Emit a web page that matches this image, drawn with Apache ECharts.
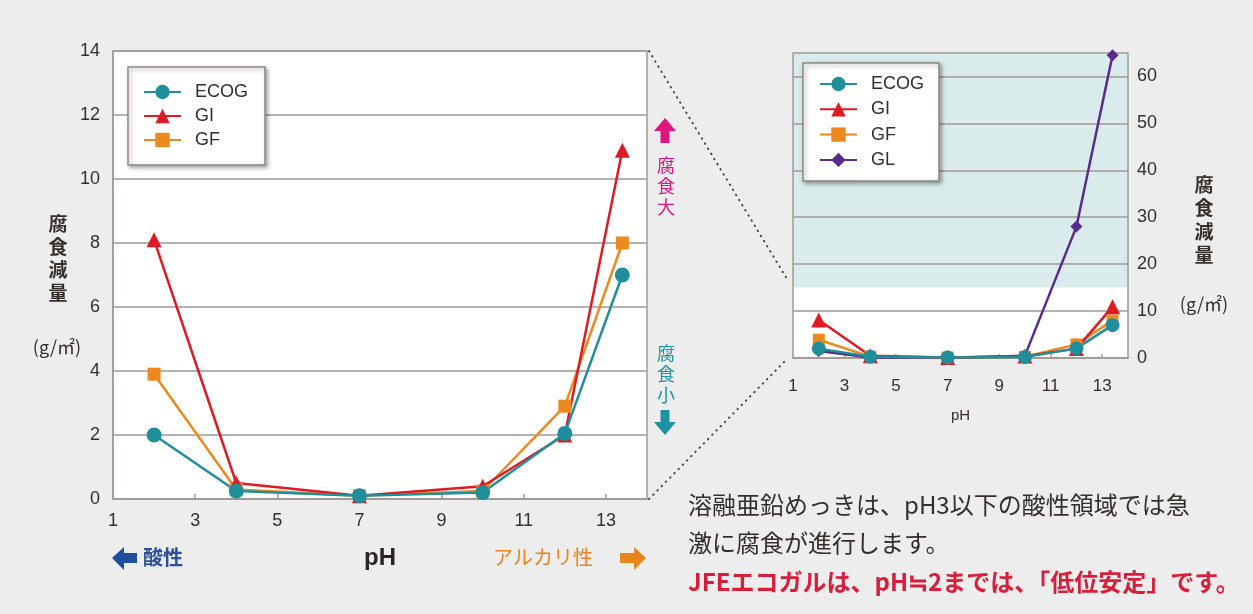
<!DOCTYPE html>
<html>
<head>
<meta charset="utf-8">
<script src="https://cdn.jsdelivr.net/npm/echarts@6/dist/echarts.min.js"></script>
<style>
  html, body { margin: 0; padding: 0; background: #ecedec; }
  #chart { width: 1253px; height: 614px; }
</style>
</head>
<body>
<div id="chart"></div>
<script>
// pH of each immersion test and corrosion loss (g/m²) per coating
const phValues = [2, 4, 7, 10, 12, 13.4];
const ecogLoss = [2.0, 0.25, 0.1, 0.2, 2.05, 7.0];
const giLoss   = [8.1, 0.5, 0.1, 0.4, 2.0, 10.9];
const gfLoss   = [3.9, 0.3, 0.1, 0.25, 2.9, 8.0];
const glLoss   = [1.5, 0.1, 0.0, 0.5, 28, 64.5];

// axis ticks
const phTickLabels = [1, 3, 5, 7, 9, 11, 13];
const phTickMarks = [3, 5, 7, 9, 11, 13];
const leftLossTicks = [0, 2, 4, 6, 8, 10, 12, 14];
const rightLossTicks = [0, 10, 20, 30, 40, 50, 60];
// range of the overview chart that lies above the detail chart
const shadedRange = [15, 65];

const FONT = "'Liberation Sans', 'Noto Sans CJK JP', sans-serif";
const JP = "'Noto Sans CJK JP', sans-serif";
const GRID_LINE = '#a19a94';
const TEXT = '#352f2c';

const COLORS = { ECOG: '#1f8f9c', GI: '#e01a22', GF: '#ec8a1f', GL: '#5b2a8e' };

const pairs = (xs, ys) => xs.map((x, i) => [x, ys[i]]);

function lineSeries(name, values, gridIdx, symbol, size) {
  const axisIdx = gridIdx === 0 ? 0 : 1;
  return {
    type: 'line',
    name,
    xAxisIndex: axisIdx,
    yAxisIndex: axisIdx,
    data: pairs(phValues, values),
    symbol,
    symbolSize: size,
    showAllSymbol: true,
    z: 3,
    clip: true,
    lineStyle: { color: COLORS[name], width: 2.5 },
    itemStyle: { color: COLORS[name] },
    emphasis: { disabled: true },
    animation: false
  };
}

const legendBase = {
  orient: 'vertical',
  itemWidth: 37,
  itemHeight: 18,
  backgroundColor: '#ffffff',
  borderColor: '#8f8882',
  borderWidth: 1.5,
  shadowColor: 'rgba(0,0,0,0.35)',
  shadowBlur: 4,
  shadowOffsetX: 2,
  shadowOffsetY: 2,
  selectedMode: false,
  textStyle: { fontFamily: FONT, fontSize: 18, color: TEXT, padding: [0, 0, 0, 9] }
};

const axisLineStyle = { show: true, lineStyle: { color: GRID_LINE, width: 1.5 } };

const option = {
  backgroundColor: '#ecedec',
  animation: false,
  grid: [
    { left: 113, top: 51, width: 534, height: 448, show: true, backgroundColor: '#ffffff',
      borderColor: GRID_LINE, borderWidth: 1.5 },
    { left: 793, top: 53, width: 335, height: 305, show: true, backgroundColor: '#ffffff',
      borderWidth: 0 }
  ],
  legend: [
    Object.assign({}, legendBase, {
      data: ['ECOG', 'GI', 'GF'], left: 128, top: 67, itemGap: 6, padding: [16, 17, 16, 15]
    }),
    Object.assign({}, legendBase, {
      data: ['ECOG', 'GI', 'GF', 'GL'], left: 803, top: 63, itemGap: 7.3, padding: [12, 15, 12, 16]
    })
  ],
  xAxis: [
    { gridIndex: 0, type: 'value', min: 1, max: 14,
      axisLine: axisLineStyle,
      axisTick: { show: true, inside: true, length: 5, customValues: phTickMarks,
        lineStyle: { color: GRID_LINE, width: 1.5 } },
      axisLabel: { customValues: phTickLabels, margin: 13, fontSize: 18, color: TEXT, fontFamily: FONT },
      splitLine: { show: false },
      name: 'pH', nameLocation: 'middle', nameGap: 47,
      nameTextStyle: { fontSize: 24, fontWeight: 'bold', color: '#2a2522', fontFamily: FONT } },
    { gridIndex: 1, type: 'value', min: 1, max: 14, z: 2,
      axisLine: axisLineStyle,
      axisTick: { show: true, inside: true, length: 4, customValues: phTickMarks,
        lineStyle: { color: GRID_LINE, width: 1.5 } },
      axisLabel: { customValues: phTickLabels, margin: 20, fontSize: 17, color: TEXT, fontFamily: FONT },
      splitLine: { show: false },
      name: 'pH', nameLocation: 'middle', nameGap: 50,
      nameTextStyle: { fontSize: 15, color: TEXT, fontFamily: FONT } },
    { gridIndex: 1, type: 'value', min: 1, max: 14, position: 'top', z: 2,
      axisLine: axisLineStyle, axisTick: { show: false }, axisLabel: { show: false },
      splitLine: { show: false } }
  ],
  yAxis: [
    { gridIndex: 0, type: 'value', min: 0, max: 14, interval: 2,
      axisLine: axisLineStyle, axisTick: { show: false },
      axisLabel: { customValues: leftLossTicks, margin: 13, fontSize: 18, color: TEXT, fontFamily: FONT },
      splitLine: { show: true, lineStyle: { color: GRID_LINE, width: 1.5 } } },
    { gridIndex: 1, type: 'value', min: 0, max: 65, interval: 10, position: 'right', z: 2,
      axisLine: axisLineStyle, axisTick: { show: false },
      axisLabel: { customValues: rightLossTicks, margin: 9, fontSize: 18, color: TEXT, fontFamily: FONT },
      splitLine: { show: true, lineStyle: { color: GRID_LINE, width: 1.5 } } },
    { gridIndex: 1, type: 'value', min: 0, max: 65, position: 'left', z: 2,
      axisLine: axisLineStyle, axisTick: { show: false }, axisLabel: { show: false },
      splitLine: { show: false } }
  ],
  series: [
    // left detail chart
    lineSeries('GF', gfLoss, 0, 'rect', 13),
    lineSeries('GI', giLoss, 0, 'triangle', 15),
    lineSeries('ECOG', ecogLoss, 0, 'circle', 15),
    // right overview chart: shaded band above the detail range
    { type: 'line', name: 'band', xAxisIndex: 1, yAxisIndex: 1, data: [], z: 1, silent: true,
      markArea: { silent: true, z: 1, itemStyle: { color: '#d9ebeb' },
        data: [[{ yAxis: shadedRange[0] }, { yAxis: shadedRange[1] }]] } },
    lineSeries('GL', glLoss, 1, 'diamond', 12),
    lineSeries('GF', gfLoss, 1, 'rect', 12),
    lineSeries('GI', giLoss, 1, 'triangle', 15),
    lineSeries('ECOG', ecogLoss, 1, 'circle', 14)
  ]
};

const chart = echarts.init(document.getElementById('chart'), null, { renderer: 'canvas' });
chart.setOption(option);

// dotted connectors between the detail chart and the overview chart
const L = { xAxisIndex: 0, yAxisIndex: 0 };
const R = { xAxisIndex: 1, yAxisIndex: 1 };
const lTop = chart.convertToPixel(L, [14, 14]);
const lBot = chart.convertToPixel(L, [14, 0]);
const rTop = chart.convertToPixel(R, [1, 16.5]);
const rBot = chart.convertToPixel(R, [1, 0]);

const dotted = { stroke: '#4a4644', lineWidth: 2, lineDash: [0.5, 5.5], lineCap: 'round' };

function vText(text, x, y, size, color, lineHeight, weight) {
  return { type: 'text', x, y, z: 10,
    style: { text, fontSize: size, fontFamily: JP, fill: color, align: 'center',
      verticalAlign: 'middle', lineHeight, fontWeight: weight || 'normal' } };
}
function hText(text, x, y, size, color, weight, align) {
  return { type: 'text', x, y, z: 10,
    style: { text, fontSize: size, fontFamily: JP, fill: color, align: align || 'left',
      verticalAlign: 'middle', fontWeight: weight || 'normal' } };
}
function arrow(points, color) {
  return { type: 'polygon', z: 10, shape: { points }, style: { fill: color } };
}

const graphics = [
  { type: 'line', z: 10, shape: { x1: lTop[0] + 2, y1: lTop[1], x2: rTop[0] - 5, y2: rTop[1] }, style: dotted },
  { type: 'line', z: 10, shape: { x1: lBot[0] + 2, y1: lBot[1], x2: rBot[0] - 5, y2: rBot[1] }, style: dotted },

  // axis titles
  vText('腐\n食\n減\n量', 58, 258, 19, TEXT, 23, 'bold'),
  hText('(g/㎡)', 57, 347, 18, TEXT, 'normal', 'center'),
  vText('腐\n食\n減\n量', 1204, 220, 19, TEXT, 23.5, 'bold'),
  hText('(g/㎡)', 1204, 304, 18, TEXT, 'normal', 'center'),

  // corrosion direction markers
  arrow([[665, 118], [676, 131], [669.5, 131], [669.5, 143], [660.5, 143], [660.5, 131], [654, 131]], '#e0157f'),
  vText('腐\n食\n大', 666, 186, 18, '#e0157f', 21),
  vText('腐\n食\n小', 666, 374, 18, '#1d92a0', 21),
  arrow([[660.5, 410], [669.5, 410], [669.5, 422], [676, 422], [665, 435], [654, 422], [660.5, 422]], '#1d92a0'),

  // acidity / alkalinity hints under the pH axis
  arrow([[112, 558], [124, 547], [124, 553], [137, 553], [137, 563], [124, 563], [124, 570]], '#1f4e9c'),
  hText('酸性', 143, 557, 20, '#2a4f9c', 'bold'),
  hText('アルカリ性', 493, 557, 20, '#ea851c'),
  arrow([[646, 558], [634, 547], [634, 553], [620, 553], [620, 563], [634, 563], [634, 570]], '#ea851c'),

  // notes
  hText('溶融亜鉛めっきは、pH3以下の酸性領域では急', 688, 505, 24, TEXT),
  hText('激に腐食が進行します。', 688, 543, 24, TEXT),
  hText('JFEエコガルは、pH≒2までは、「低位安定」です。', 688, 582, 24, '#d91e3c', 'bold')
];

chart.setOption({ graphic: graphics });
</script>
</body>
</html>
